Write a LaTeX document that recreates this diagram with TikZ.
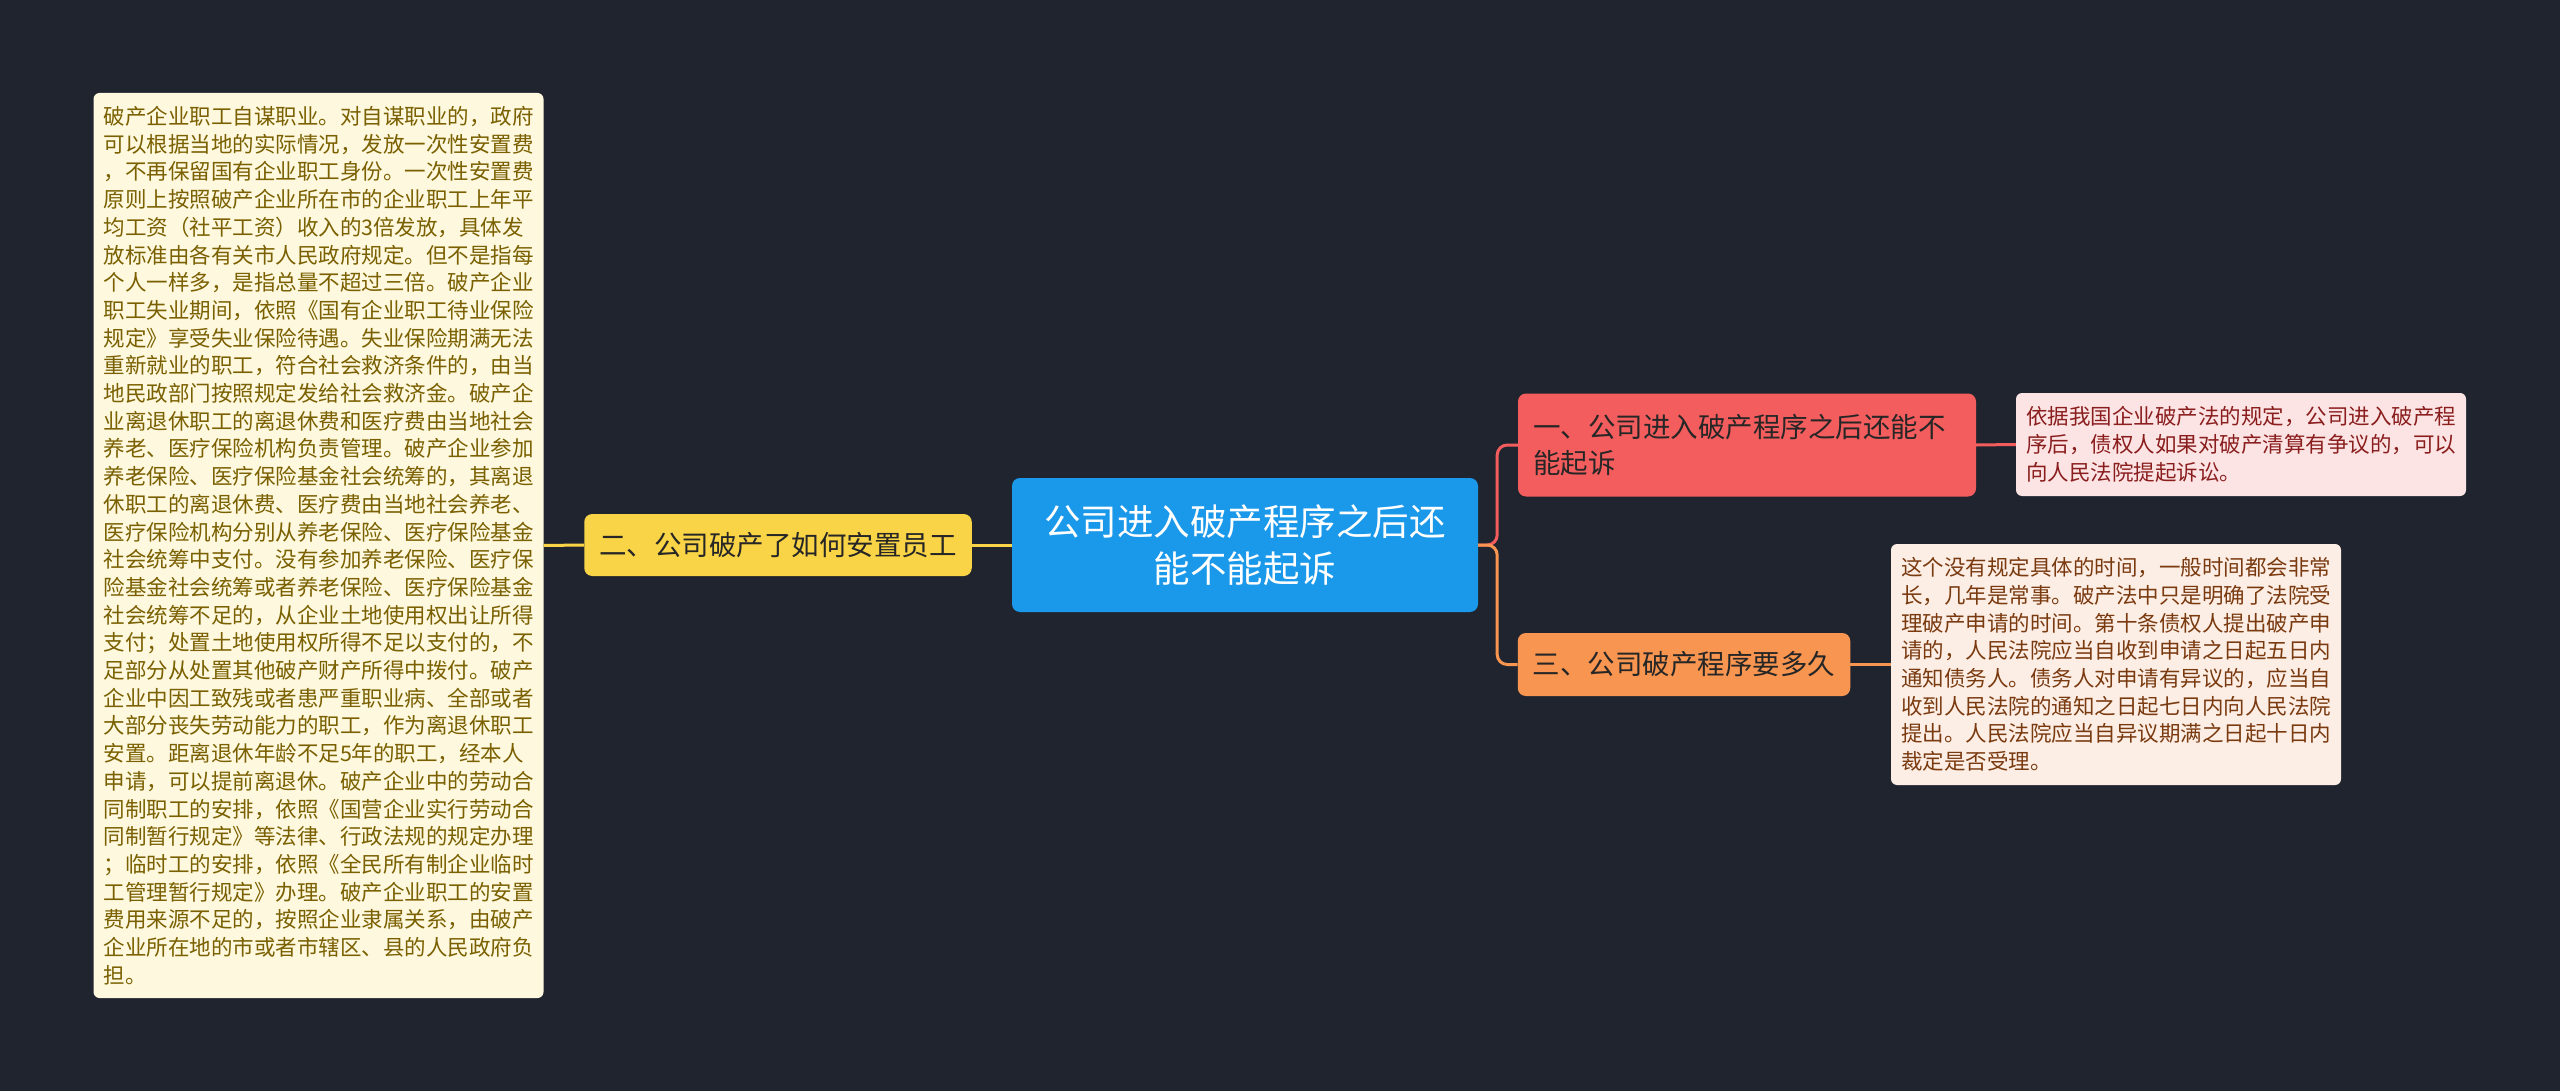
\documentclass[tikz,border=0pt]{standalone}
\usepackage{fontspec}
\setmainfont{Noto Sans CJK SC}
\usetikzlibrary{calc}

\definecolor{bgdark}{RGB}{32,36,47}
\definecolor{rootblue}{RGB}{26,152,234}
\definecolor{topicyellow}{RGB}{249,212,70}
\definecolor{topicred}{RGB}{244,93,93}
\definecolor{topicorange}{RGB}{248,149,80}
\definecolor{notecream}{RGB}{253,248,222}
\definecolor{notepink}{RGB}{253,228,228}
\definecolor{notepeach}{RGB}{253,238,229}
\definecolor{txtolive}{RGB}{122,96,0}
\definecolor{txtred}{RGB}{138,30,30}
\definecolor{txtbrown}{RGB}{122,58,16}

\begin{document}
\begin{tikzpicture}[x=1pt,y=-1pt,
    root/.style={rounded corners=8pt,fill=rootblue,text=white,align=center,
      font=\fontsize{36.5}{47}\selectfont,minimum width=466pt,minimum height=134pt,inner sep=0pt},
    topic/.style={rounded corners=8pt,text=black!85,align=left,
      font=\fontsize{27.5}{36}\selectfont,inner xsep=15pt,inner ysep=0pt},
    note/.style={rounded corners=6pt,align=left,
      font=\fontsize{21.5}{27.7}\selectfont,inner xsep=10pt,inner ysep=0pt,text width=430pt},
    link/.style={line width=3pt,rounded corners=10pt}]
    \fill[bgdark] (0,0) rectangle (2560,1091);

    % Mitte
    \node[root] (root) at (1245,545) {公司进入破产程序之后还\\能不能起诉};

    % linker Zweig
    \node[topic,fill=topicyellow,minimum width=387pt,minimum height=62pt,align=center] (t2) at (778,545) {二、公司破产了如何安置员工};
    \node[note,fill=notecream,text=txtolive,minimum height=905pt] (n2) at (318.5,545.5) {破产企业职工自谋职业。对自谋职业的，政府\\
可以根据当地的实际情况，发放一次性安置费\\
，不再保留国有企业职工身份。一次性安置费\\
原则上按照破产企业所在市的企业职工上年平\\
均工资（社平工资）收入的3倍发放，具体发\\
放标准由各有关市人民政府规定。但不是指每\\
个人一样多，是指总量不超过三倍。破产企业\\
职工失业期间，依照《国有企业职工待业保险\\
规定》享受失业保险待遇。失业保险期满无法\\
重新就业的职工，符合社会救济条件的，由当\\
地民政部门按照规定发给社会救济金。破产企\\
业离退休职工的离退休费和医疗费由当地社会\\
养老、医疗保险机构负责管理。破产企业参加\\
养老保险、医疗保险基金社会统筹的，其离退\\
休职工的离退休费、医疗费由当地社会养老、\\
医疗保险机构分别从养老保险、医疗保险基金\\
社会统筹中支付。没有参加养老保险、医疗保\\
险基金社会统筹或者养老保险、医疗保险基金\\
社会统筹不足的，从企业土地使用权出让所得\\
支付；处置土地使用权所得不足以支付的，不\\
足部分从处置其他破产财产所得中拨付。破产\\
企业中因工致残或者患严重职业病、全部或者\\
大部分丧失劳动能力的职工，作为离退休职工\\
安置。距离退休年龄不足5年的职工，经本人\\
申请，可以提前离退休。破产企业中的劳动合\\
同制职工的安排，依照《国营企业实行劳动合\\
同制暂行规定》等法律、行政法规的规定办理\\
；临时工的安排，依照《全民所有制企业临时\\
工管理暂行规定》办理。破产企业职工的安置\\
费用来源不足的，按照企业隶属关系，由破产\\
企业所在地的市或者市辖区、县的人民政府负\\
担。};

    % rechte Zweige
    \node[topic,fill=topicred,text width=428pt,minimum height=103pt] (t1) at (1747,445) {一、公司进入破产程序之后还能不\\能起诉};
    \node[note,fill=notepink,text=txtred,minimum height=103pt] (n1) at (2241,444.5) {依据我国企业破产法的规定，公司进入破产程\\
序后，债权人如果对破产清算有争议的，可以\\
向人民法院提起诉讼。};
    \node[topic,fill=topicorange,minimum width=332pt,minimum height=63pt,align=center] (t3) at (1684,664.5) {三、公司破产程序要多久};
    \node[note,fill=notepeach,text=txtbrown,minimum height=241pt] (n3) at (2116,664.5) {这个没有规定具体的时间，一般时间都会非常\\
长，几年是常事。破产法中只是明确了法院受\\
理破产申请的时间。第十条债权人提出破产申\\
请的，人民法院应当自收到申请之日起五日内\\
通知债务人。债务人对申请有异议的，应当自\\
收到人民法院的通知之日起七日内向人民法院\\
提出。人民法院应当自异议期满之日起十日内\\
裁定是否受理。};

    % Verbindungen
    \draw[link,topicyellow] (root.west) -- (t2.east);
    \draw[link,topicyellow] (t2.west) -- (n2.east);
    \draw[link,topicred] (root.east) -- ++(19,0) |- (t1.west);
    \draw[link,topicorange] (root.east) -- ++(19,0) |- (t3.west);
    \draw[link,topicred] (t1.east) -- (n1.west);
    \draw[link,topicorange] (t3.east) -- (n3.west);
  \end{tikzpicture}
\end{document}
